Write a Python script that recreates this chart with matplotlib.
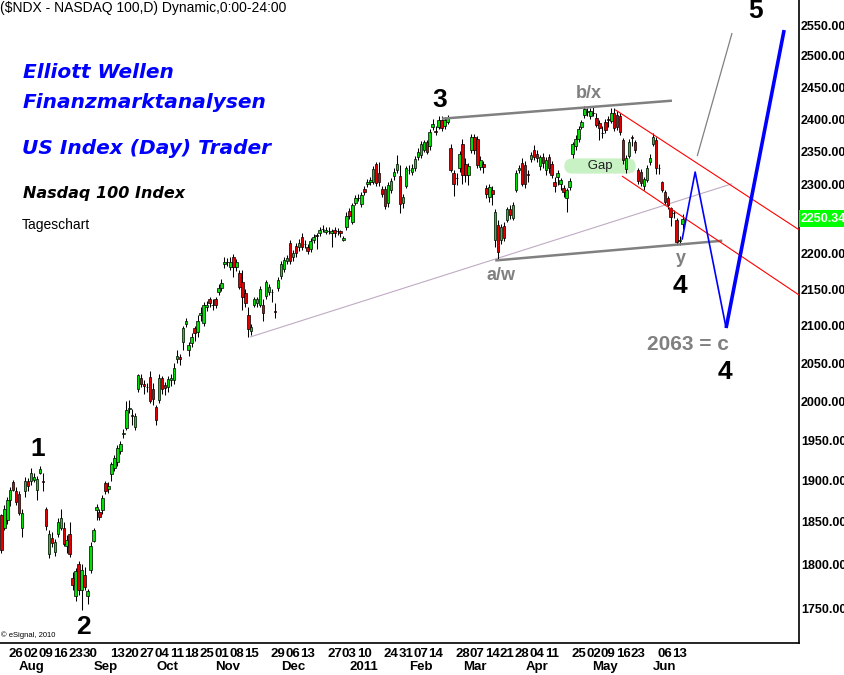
import numpy as np
import pandas as pd
import matplotlib
matplotlib.use('Agg')
from matplotlib import pyplot as plt
from matplotlib.ticker import FixedLocator, NullLocator
from matplotlib.transforms import blended_transform_factory

plt.rcParams['font.family'] = ['Liberation Sans', 'DejaVu Sans']

# trading sessions shown, Jul 19 2010 .. Jun 14 2011
holidays = ['2010-09-06', '2010-11-25', '2010-12-24', '2011-01-17',
            '2011-02-21', '2011-04-22', '2011-05-30']

# daily candles (open, high, low, close)
ohlc_1 = [
    (1858, 1860, 1813, 1817), (1843, 1871, 1840, 1866), (1852, 1880, 1848, 1877),
    (1877, 1892, 1869, 1889), (1899, 1901, 1887, 1889), (1888, 1892, 1870, 1874),
    (1884, 1887, 1858, 1861), (1843, 1866, 1832, 1861), (1888, 1905, 1880, 1900),
    (1900, 1903, 1888, 1893), (1900, 1916, 1895, 1910), (1901, 1910, 1898, 1905),
    (1889, 1906, 1876, 1902), (1910, 1918, 1908, 1914), (1900, 1909, 1887, 1899),
    (1866, 1868, 1840, 1845), (1812, 1840, 1808, 1836), (1831, 1838, 1820, 1825),
    (1815, 1830, 1810, 1826), (1836, 1855, 1832, 1850), (1843, 1866, 1840, 1855),
    (1843, 1850, 1821, 1824), (1822, 1834, 1813, 1829), (1836, 1850, 1809, 1812),
    (1784, 1791, 1771, 1776), (1764, 1796, 1758, 1792), (1800, 1804, 1765, 1770),
    (1770, 1800, 1748, 1793), (1788, 1797, 1770, 1774), (1764, 1772, 1755, 1769),
    (1793, 1826, 1790, 1822), (1828, 1843, 1826, 1840), (1864, 1872, 1852, 1868),
    (1862, 1866, 1852, 1856), (1864, 1882, 1860, 1879), (1897, 1900, 1884, 1888),
    (1890, 1898, 1885, 1894), (1908, 1923, 1900, 1921), (1916, 1932, 1912, 1928),
    (1923, 1944, 1918, 1940),
]
ohlc_2 = [
    (1937, 1950, 1933, 1946), (1958, 1964, 1953, 1960), (1966, 2000, 1963, 1989),
    (1990, 2002, 1985, 1992), (1982, 1990, 1970, 1981), (1967, 1985, 1963, 1981),
    (2016, 2036, 2012, 2034), (2031, 2036, 2018, 2022), (2022, 2028, 2010, 2020),
    (2019, 2024, 2012, 2018), (2032, 2040, 1998, 2000), (2016, 2024, 1995, 2003),
    (1993, 1995, 1970, 1976), (2002, 2035, 1998, 2031), (2030, 2033, 2010, 2016),
    (2021, 2025, 2008, 2017), (2018, 2033, 2012, 2029), (2028, 2036, 2020, 2031),
    (2028, 2050, 2022, 2044), (2056, 2068, 2050, 2060), (2058, 2062, 2048, 2055),
    (2078, 2100, 2067, 2097), (2102, 2110, 2099, 2106), (2068, 2078, 2060, 2074),
    (2077, 2090, 2072, 2085), (2097, 2100, 2080, 2090), (2092, 2115, 2085, 2107),
    (2115, 2126, 2107, 2118), (2104, 2132, 2100, 2129), (2125, 2134, 2120, 2129),
    (2136, 2140, 2126, 2131), (2129, 2136, 2122, 2128), (2136, 2140, 2124, 2129),
    (2147, 2158, 2142, 2152), (2152, 2165, 2148, 2159), (2185, 2196, 2180, 2188),
    (2188, 2194, 2182, 2188), (2181, 2195, 2177, 2188), (2196, 2200, 2167, 2181),
    (2181, 2192, 2175, 2188), (2173, 2177, 2150, 2153), (2160, 2177, 2122, 2140),
    (2145, 2150, 2126, 2131), (2115, 2125, 2085, 2095), (2093, 2102, 2088, 2098),
    (2129, 2140, 2125, 2136), (2131, 2140, 2126, 2136), (2128, 2155, 2125, 2151),
    (2128, 2136, 2107, 2118), (2141, 2163, 2137, 2160),
]
ohlc_3 = [
    (2147, 2158, 2142, 2153), (2146, 2150, 2133, 2146), (2120, 2131, 2111, 2119),
    (2152, 2167, 2148, 2163), (2168, 2190, 2164, 2186), (2178, 2195, 2174, 2191),
    (2190, 2198, 2186, 2194), (2216, 2220, 2186, 2190), (2195, 2206, 2190, 2201),
    (2211, 2215, 2196, 2201), (2209, 2221, 2204, 2216), (2224, 2229, 2205, 2210),
    (2214, 2220, 2208, 2214), (2210, 2214, 2199, 2204), (2207, 2222, 2203, 2218),
    (2219, 2228, 2215, 2224), (2226, 2229, 2207, 2226), (2230, 2238, 2226, 2234),
    (2236, 2241, 2231, 2236), (2231, 2238, 2228, 2234), (2233, 2238, 2228, 2233),
    (2229, 2236, 2209, 2233), (2234, 2238, 2224, 2229), (2232, 2237, 2227, 2232),
    (2232, 2234, 2224, 2229), (2220, 2226, 2218, 2223), (2238, 2260, 2234, 2255),
    (2262, 2266, 2250, 2254), (2246, 2274, 2242, 2270), (2273, 2285, 2270, 2281),
    (2281, 2287, 2276, 2281), (2272, 2290, 2268, 2285), (2294, 2298, 2285, 2289),
    (2301, 2309, 2297, 2305), (2304, 2312, 2300, 2308), (2305, 2328, 2301, 2324),
    (2331, 2335, 2298, 2303), (2318, 2334, 2299, 2305), (2294, 2298, 2282, 2287),
    (2294, 2298, 2264, 2269), (2273, 2304, 2268, 2300), (2292, 2310, 2288, 2306),
    (2313, 2325, 2308, 2320), (2323, 2345, 2318, 2331), (2313, 2330, 2259, 2272),
    (2273, 2287, 2266, 2282), (2299, 2329, 2295, 2325), (2323, 2330, 2316, 2322),
    (2320, 2332, 2315, 2326), (2325, 2343, 2321, 2339), (2342, 2356, 2338, 2350),
]
ohlc_4 = [
    (2345, 2366, 2340, 2361), (2353, 2368, 2349, 2364), (2364, 2368, 2346, 2350),
    (2358, 2384, 2352, 2380), (2387, 2400, 2383, 2393), (2381, 2390, 2375, 2380),
    (2388, 2404, 2385, 2399), (2399, 2404, 2382, 2386), (2389, 2403, 2384, 2399),
    (2396, 2406, 2393, 2402), (2356, 2361, 2320, 2323), (2318, 2323, 2283, 2301),
    (2311, 2318, 2300, 2310), (2325, 2351, 2320, 2347), (2361, 2369, 2301, 2315),
    (2331, 2340, 2305, 2315), (2315, 2333, 2300, 2328), (2353, 2377, 2348, 2372),
    (2372, 2377, 2346, 2353), (2369, 2374, 2325, 2330), (2327, 2343, 2322, 2338),
    (2331, 2336, 2318, 2327), (2296, 2300, 2280, 2287), (2282, 2302, 2275, 2297),
    (2293, 2298, 2270, 2286), (2220, 2264, 2210, 2260), (2241, 2248, 2192, 2203),
    (2220, 2242, 2214, 2238), (2240, 2246, 2218, 2223), (2249, 2268, 2245, 2264),
    (2264, 2270, 2250, 2256), (2252, 2275, 2248, 2271), (2293, 2322, 2290, 2318),
    (2322, 2330, 2318, 2325), (2333, 2340, 2298, 2302), (2330, 2336, 2296, 2302),
    (2316, 2322, 2305, 2315), (2339, 2350, 2335, 2345), (2353, 2360, 2338, 2342),
    (2346, 2352, 2334, 2340), (2329, 2345, 2322, 2342), (2342, 2348, 2325, 2333),
    (2322, 2342, 2315, 2338), (2342, 2347, 2318, 2325), (2331, 2336, 2310, 2315),
    (2305, 2312, 2290, 2299), (2312, 2322, 2300, 2318), (2302, 2310, 2292, 2308),
    (2295, 2300, 2282, 2289),
]
ohlc_5 = [
    (2281, 2296, 2260, 2292), (2297, 2310, 2292, 2306), (2346, 2365, 2340, 2361),
    (2358, 2375, 2353, 2370), (2369, 2390, 2365, 2384), (2388, 2399, 2384, 2396),
    (2407, 2420, 2402, 2415), (2411, 2418, 2405, 2412), (2404, 2418, 2400, 2412),
    (2410, 2420, 2404, 2409), (2402, 2410, 2388, 2391), (2394, 2398, 2368, 2386),
    (2379, 2390, 2371, 2378), (2396, 2400, 2378, 2383), (2400, 2404, 2388, 2399),
    (2397, 2418, 2394, 2410), (2410, 2417, 2382, 2386), (2407, 2412, 2383, 2388),
    (2404, 2410, 2376, 2380), (2368, 2371, 2332, 2337), (2324, 2345, 2318, 2340),
    (2343, 2370, 2340, 2365), (2372, 2376, 2358, 2371), (2365, 2368, 2348, 2352),
    (2322, 2326, 2301, 2306), (2320, 2324, 2298, 2303), (2298, 2312, 2293, 2309),
    (2308, 2330, 2304, 2326), (2334, 2346, 2330, 2340), (2362, 2378, 2358, 2373),
    (2368, 2373, 2317, 2325), (2326, 2332, 2317, 2325), (2304, 2306, 2290, 2293),
    (2289, 2292, 2272, 2275), (2280, 2283, 2265, 2270), (2266, 2268, 2240, 2253),
    (2259, 2263, 2252, 2258), (2249, 2252, 2212, 2217), (2218, 2226, 2212, 2220),
    (2242, 2257, 2236, 2250.34),
]

day_ticks = ['2010-07-26', '2010-08-02', '2010-08-09', '2010-08-16', '2010-08-23',
             '2010-08-30', '2010-09-13', '2010-09-20', '2010-09-27', '2010-10-04',
             '2010-10-11', '2010-10-18', '2010-10-25', '2010-11-01', '2010-11-08',
             '2010-11-15', '2010-11-29', '2010-12-06', '2010-12-13', '2010-12-27',
             '2011-01-03', '2011-01-10', '2011-01-24', '2011-01-31', '2011-02-07',
             '2011-02-14', '2011-02-28', '2011-03-07', '2011-03-14', '2011-03-21',
             '2011-03-28', '2011-04-04', '2011-04-11', '2011-04-25', '2011-05-02',
             '2011-05-09', '2011-05-16', '2011-05-23', '2011-06-06', '2011-06-13']
month_ticks = ['2010-08-02', '2010-09-07', '2010-10-06', '2010-11-03', '2010-12-06',
               '2011-01-10', '2011-02-07', '2011-03-04', '2011-04-04', '2011-05-06',
               '2011-06-06']
month_names = ['Aug', 'Sep', 'Oct', 'Nov', 'Dec', '2011', 'Feb', 'Mar', 'Apr', 'May', 'Jun']
price_ticks = [1750, 1800, 1850, 1900, 1950, 2000, 2050, 2100, 2150, 2200,
               2250, 2300, 2350, 2400, 2450, 2500, 2550]
last_price = 2250.34

# drawn lines as (session number, price), sessions counted from Jul 19 2010
upper_rail = [(148.1, 2400.6), (225.4, 2428.7)]
lower_rail = [(166.0, 2190.5), (242.3, 2218.6)]
base_line = [(83.6, 2084.8), (245.6, 2301.8)]
wave5_guide = [(233.9, 2343.4), (245.6, 2537.2)]
channel_top = [(206.3, 2414.6), (268.1, 2234.4)]
channel_bottom = [(208.6, 2313.3), (268.1, 2142.2)]
path_c = [(228.8, 2220.0), (233.2, 2319.3), (243.6, 2097.0)]
path_5 = [(243.6, 2097.0), (263.1, 2542.1)]

sessions = pd.bdate_range('2010-07-19', '2011-06-14')
sessions = sessions[~sessions.isin(pd.to_datetime(holidays))]
bars = ohlc_1 + ohlc_2 + ohlc_3 + ohlc_4 + ohlc_5
assert len(bars) == len(sessions)
o, h, l, c = np.array(bars, dtype=float).T
x = np.arange(len(bars))
pos = {d: i for i, d in enumerate(sessions.strftime('%Y-%m-%d'))}

W, H = 845, 675
fig = plt.figure(figsize=(W / 100, H / 100), dpi=100)
ax = fig.add_axes([0, 32 / H, 799 / W, 643 / H])
ax.set_yscale('log')
ax.set_ylim(1710.9, 2591.9)
ax.set_xlim(-0.437, 268.1)


def at(px, py):
    return px / W, 1 - py / H


# candles
colors = np.where(c > o, '#00e000', np.where(c < o, '#e00000', 'black'))
ax.vlines(x, l, h, color='black', lw=0.75, zorder=3)
ax.bar(x, np.maximum(np.abs(c - o), 0.2), bottom=np.minimum(o, c), width=0.85,
       color=colors, edgecolor='black', lw=0.5, zorder=4)


def draw(pts, **kw):
    px, py = zip(*pts)
    ax.plot(px, py, solid_capstyle='butt', **kw)


draw(base_line, color='#c0aac4', lw=0.8, zorder=2)
draw(upper_rail, color='#808080', lw=1.8, zorder=5)
draw(lower_rail, color='#808080', lw=1.8, zorder=5)
draw(wave5_guide, color='#808080', lw=0.9, zorder=5)
draw(channel_top, color='#ff0000', lw=0.8, zorder=5)
draw(channel_bottom, color='#ff0000', lw=0.8, zorder=5)
draw(path_c, color='#0000ff', lw=1.2, zorder=6)
draw(path_5, color='#0000ff', lw=2.6, zorder=6)

# gap box below the candles
gx, gy = at(600, 166)
ax.text(gx, gy, '      Gap      ', transform=fig.transFigure, ha='center', va='center',
        fontsize=9.5, color='#202020', zorder=2,
        bbox=dict(boxstyle='round,pad=0.12,rounding_size=0.6', fc='#c8f2c4', ec='none'))

# axes styling
for s in ['left', 'top']:
    ax.spines[s].set_visible(False)
ax.spines['right'].set_linewidth(1.2)
ax.spines['bottom'].set_linewidth(1.2)
ax.yaxis.tick_right()
ax.yaxis.set_major_locator(FixedLocator(price_ticks))
ax.yaxis.set_minor_locator(NullLocator())
ax.set_yticklabels(['' if v == 2250 else f'{v:.2f}' for v in price_ticks])
ax.tick_params(axis='y', length=0, pad=1.5, labelsize=9)
for t in ax.get_yticklabels():
    t.set_fontweight('bold')

ax.set_xticks([pos[d] for d in day_ticks], [d[-2:] for d in day_ticks])
ax.tick_params(axis='x', which='major', length=0, pad=3.5, labelsize=9.5)
for t in ax.get_xticklabels():
    t.set_fontweight('bold')
for d, name in zip(month_ticks, month_names):
    ax.annotate(name, xy=(pos[d], 0), xycoords=('data', 'axes fraction'),
                xytext=(0, -17.5), textcoords='offset points', ha='center', va='center',
                fontsize=9.5, fontweight='bold', annotation_clip=False)

tr = blended_transform_factory(ax.transAxes, ax.transData)
ax.text(1.0 + 2 / 799, last_price, f'{last_price:.2f}', transform=tr, ha='left',
        va='center', fontsize=9, fontweight='bold', color='white', clip_on=False,
        bbox=dict(boxstyle='square,pad=0.18', fc='#00ff00', ec='none'))

# texts
fig.text(*at(0, 8), '($NDX - NASDAQ 100,D) Dynamic,0:00-24:00', fontsize=10,
         ha='left', va='center')
blue = dict(color='#0000ff', fontsize=14.5, fontweight='bold', fontstyle='italic',
            family='DejaVu Sans', ha='left', va='center')
fig.text(*at(23, 72), 'Elliott Wellen', **blue)
fig.text(*at(23, 102), 'Finanzmarktanalysen', **blue)
fig.text(*at(22, 148), 'US Index (Day) Trader', **blue)
fig.text(*at(23, 194), 'Nasdaq 100 Index', fontsize=11.5, fontweight='bold',
         fontstyle='italic', family='DejaVu Sans', ha='left', va='center')
fig.text(*at(22, 225), 'Tageschart', fontsize=10, ha='left', va='center')
fig.text(*at(1, 635), '\u00a9 eSignal, 2010', fontsize=5.5, ha='left', va='center')

big = dict(fontsize=19, fontweight='bold', ha='center', va='center', color='black')
fig.text(*at(756, 11), '5', **big)
fig.text(*at(440, 100), '3', **big)
fig.text(*at(38, 449), '1', **big)
fig.text(*at(83, 627), '2', **big)
fig.text(*at(680, 286), '4', **big)
fig.text(*at(725, 372), '4', **big)
grey = dict(fontsize=13, fontweight='bold', ha='center', va='center', color='#808080')
fig.text(*at(589, 93), 'b/x', **grey)
fig.text(*at(501, 276), 'a/w', **grey)
fig.text(*at(681, 259), 'y', **grey)
fig.text(*at(688, 345), '2063 = c', fontsize=15, fontweight='bold', ha='center',
         va='center', color='#808080')

fig.savefig('out.png', dpi=100, facecolor='white')
